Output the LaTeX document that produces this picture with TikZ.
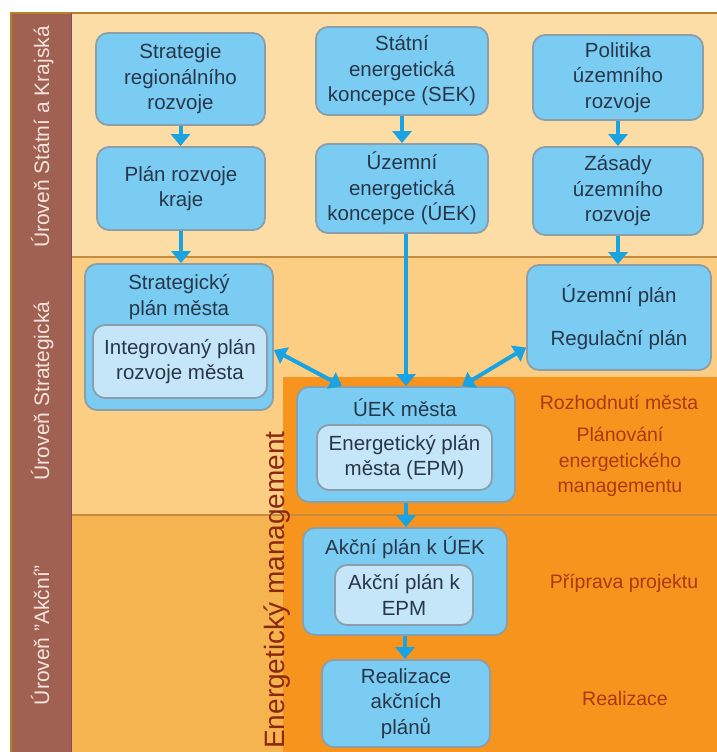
\documentclass[tikz,border=0pt]{standalone}
\usepackage{fontspec}
\setmainfont{Liberation Sans}
\usetikzlibrary{arrows.meta}
\definecolor{bandA}{RGB}{253,221,166}
\definecolor{bandB}{RGB}{252,206,132}
\definecolor{bandC}{RGB}{246,180,80}
\definecolor{orng}{RGB}{247,148,30}
\definecolor{colbrown}{RGB}{160,96,82}
\definecolor{frameline}{RGB}{184,128,40}
\definecolor{sepcol}{RGB}{196,140,60}
\definecolor{purpleline}{RGB}{130,70,120}
\definecolor{boxfill}{RGB}{122,204,242}
\definecolor{innerfill}{RGB}{196,230,248}
\definecolor{boxline}{RGB}{140,158,170}
\definecolor{arrowblue}{RGB}{26,163,226}
\definecolor{txt}{RGB}{40,55,72}
\definecolor{rust}{RGB}{168,58,18}
\definecolor{emtxt}{RGB}{140,40,15}
\definecolor{lvltxt}{RGB}{245,228,220}
\begin{document}
\begin{tikzpicture}[x=1pt,y=-1pt,
  bx/.style={draw=boxline, line width=1.8pt, fill=boxfill, rounded corners=12pt,
    align=center, text=txt, font=\fontsize{20.5}{25.5}\selectfont, inner sep=0pt},
  inbx/.style={bx, fill=innerfill},
  ttl/.style={align=center, text=txt, font=\fontsize{20.5}{25.5}\selectfont, inner sep=0pt},
  lab/.style={align=center, text=rust, font=\fontsize{19.5}{25.5}\selectfont, inner sep=0pt},
  lvl/.style={rotate=90, anchor=base, text=lvltxt, font=\fontsize{21}{24}\selectfont, inner sep=0pt},
  arr/.style={draw=arrowblue, line width=4pt, -{Triangle[width=19pt,length=12pt]}},
  darr/.style={draw=arrowblue, line width=4pt, {Triangle[width=18pt,length=12pt]}-{Triangle[width=18pt,length=12pt]}},
  sep/.style={draw=sepcol, line width=1.2pt}
]
\useasboundingbox (0,0) rectangle (717,752);
\fill[white] (0,0) rectangle (717,752);
% bands
\fill[bandA] (71,13) rectangle (717,257);
\fill[bandB] (71,257) rectangle (717,515);
\fill[bandC] (71,515) rectangle (717,752);
\fill[orng] (283,377) rectangle (717,752);
\draw[sep] (71,257) -- (717,257);
\draw[sep] (71,515) -- (717,515);
% level column
\fill[colbrown] (12,13) rectangle (71,752);
\draw[frameline, line width=2.5pt] (11,752) -- (11,13) -- (717,13);
\draw[purpleline, line width=1pt] (71,13) -- (71,752);
\node[lvl] (l1) at (49,137) {Úroveň Státní a Krajská};
\node[lvl] (l2) at (49,391) {Úroveň Strategická};
\node[lvl] (l3) at (49,635) {Úroveň "Akční"};
% energy management label
\node[rotate=90, anchor=base, text=emtxt, font=\fontsize{28}{32}\selectfont, inner sep=0pt] (em) at (284,590) {Energetický management};
% boxes
\node[bx, minimum width=169, minimum height=92] (b1) at (180.5,79) {Strategie\\regionálního\\rozvoje};
\node[bx, minimum width=168, minimum height=83] (b2) at (181,188.5) {Plán rozvoje\\kraje};
\node[bx, minimum width=172, minimum height=88] (b3) at (402,71) {Státní\\energetická\\koncepce (SEK)};
\node[bx, minimum width=172, minimum height=89] (b4) at (402,188.5) {Územní\\energetická\\koncepce (ÚEK)};
\node[bx, minimum width=170, minimum height=85] (b5) at (618,77.5) {Politika\\územního\\rozvoje};
\node[bx, minimum width=170, minimum height=88] (b6) at (618,191) {Zásady\\územního\\rozvoje};
\node[bx, minimum width=188, minimum height=146] (b7) at (179,337) {};
\node[ttl] (t7) at (179,297) {Strategický\\plán města};
\node[inbx, minimum width=174, minimum height=73] (i7) at (180,361.5) {Integrovaný plán\\rozvoje města};
\node[bx, minimum width=184, minimum height=105] (b8) at (619,317.5) {Územní plán\\[17.5pt]Regulační plán};
\node[bx, minimum width=218, minimum height=115] (b9) at (406,444.5) {};
\node[ttl] (t9) at (405,408) {ÚEK města};
\node[inbx, minimum width=175, minimum height=65] (i9) at (404.5,457.5) {Energetický plán\\města (EPM)};
\node[bx, minimum width=204, minimum height=107] (b10) at (405,581.5) {};
\node[ttl] (t10) at (405,548) {Akční plán k ÚEK};
\node[inbx, minimum width=138, minimum height=60] (i10) at (404,595) {Akční plán k\\EPM};
\node[bx, minimum width=168, minimum height=87] (b11) at (406,703.5) {Realizace\\akčních\\plánů};
% right labels
\node[lab] (r1) at (619,402) {Rozhodnutí města};
\node[lab] (r2) at (620,462) {Plánování\\energetického\\managementu};
\node[lab] (r3) at (624,583) {Příprava projektu};
\node[lab] (r4) at (625,699) {Realizace};
% arrows
\draw[arr] (b1.south) -- (b1.south |- b2.north);
\draw[arr] (b2.south) -- (b2.south |- b7.north);
\draw[arr] (b3.south) -- (b4.north);
\draw[arr] (b4.south -| b9.north) -- (b9.north);
\draw[arr] (b5.south) -- (b6.north);
\draw[arr] (b6.south) -- (b6.south |- b8.north);
\draw[darr] ([yshift=-13pt]b7.east) -- ([xshift=-64pt]b9.north);
\draw[darr] ([yshift=-30pt]b8.west) -- ([xshift=56pt]b9.north);
\draw[arr] (b9.south) -- (b9.south |- b10.north);
\draw[arr] (b10.south) -- (b10.south |- b11.north);
\end{tikzpicture}
\end{document}
